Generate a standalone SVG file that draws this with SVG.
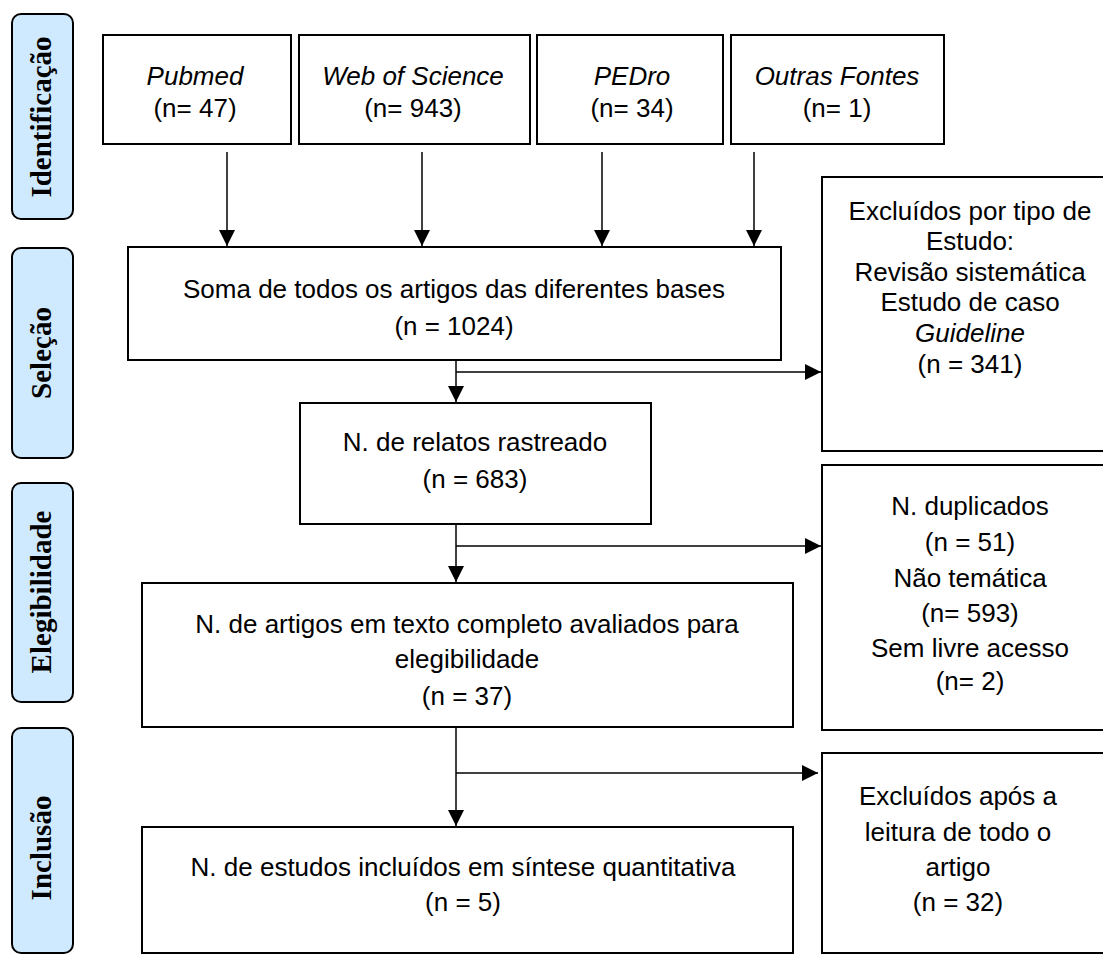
<svg xmlns="http://www.w3.org/2000/svg" width="1103" height="956" viewBox="0 0 1103 956">
<defs>
<marker id="arr" markerUnits="userSpaceOnUse" markerWidth="16" markerHeight="16" refX="16" refY="8" orient="auto"><path d="M0,0 L16,8 L0,16 z" fill="#000"/></marker>
<style>
.lab rect{fill:#cfeaff;stroke:#000;stroke-width:2}
.lab text{font-family:"Liberation Serif",serif;font-weight:bold;font-size:29px;fill:#000;text-anchor:middle}
.box rect{fill:#fff;stroke:#000;stroke-width:2}
.box text{font-family:"Liberation Sans",Arial,sans-serif;font-size:26px;fill:#000;text-anchor:middle}
.it{font-style:italic}
.con line{stroke:#000;stroke-width:1.5;fill:none}
</style>
</defs>
<rect x="0" y="0" width="1103" height="956" fill="#fff"/>

<g id="lab-identificacao" class="lab"><rect x="12" y="14" width="61" height="205" rx="9"/><text transform="translate(51,117) rotate(-90)">Identificação</text></g>
<g id="lab-selecao" class="lab"><rect x="12" y="248" width="61" height="210" rx="9"/><text transform="translate(51,353) rotate(-90)">Seleção</text></g>
<g id="lab-elegibilidade" class="lab"><rect x="12" y="483" width="61" height="219" rx="9"/><text transform="translate(51,592) rotate(-90)">Elegibilidade</text></g>
<g id="lab-inclusao" class="lab"><rect x="12" y="728" width="61" height="225" rx="9"/><text transform="translate(51,848) rotate(-90)">Inclusão</text></g>

<g id="pubmed" class="box"><rect x="103" y="35" width="188" height="109"/><text x="195" y="85" class="it">Pubmed</text><text x="195" y="117">(n= 47)</text></g>
<g id="wos" class="box"><rect x="299" y="35" width="231" height="109"/><text x="413" y="85" class="it">Web of Science</text><text x="413" y="117">(n= 943)</text></g>
<g id="pedro" class="box"><rect x="537" y="35" width="186" height="109"/><text x="632" y="85" class="it">PEDro</text><text x="632" y="117">(n= 34)</text></g>
<g id="outras" class="box"><rect x="731" y="35" width="213" height="109"/><text x="837" y="85" class="it">Outras Fontes</text><text x="837" y="117">(n= 1)</text></g>

<g id="soma" class="box"><rect x="128" y="247" width="653" height="113"/><text x="454" y="298">Soma de todos os artigos das diferentes bases</text><text x="454" y="335">(n = 1024)</text></g>
<g id="excl-tipo" class="box"><rect x="822" y="177" width="300" height="274"/><text x="970" y="220">Excluídos por tipo de</text><text x="970" y="250">Estudo:</text><text x="970" y="281">Revisão sistemática</text><text x="970" y="311">Estudo de caso</text><text x="970" y="342" class="it">Guideline</text><text x="970" y="373">(n = 341)</text></g>

<g id="relatos" class="box"><rect x="300" y="403" width="351" height="121"/><text x="475" y="451">N. de relatos rastreado</text><text x="475" y="488">(n = 683)</text></g>
<g id="duplicados" class="box"><rect x="822" y="465" width="300" height="265"/><text x="970" y="515">N. duplicados</text><text x="970" y="551">(n = 51)</text><text x="970" y="587">Não temática</text><text x="970" y="622">(n= 593)</text><text x="970" y="657">Sem livre acesso</text><text x="970" y="690">(n= 2)</text></g>

<g id="artigos" class="box"><rect x="142" y="583" width="651" height="144"/><text x="467" y="633">N. de artigos em texto completo avaliados para</text><text x="467" y="668">elegibilidade</text><text x="467" y="705">(n = 37)</text></g>
<g id="excl-leitura" class="box"><rect x="822" y="753" width="300" height="200"/><text x="958" y="805">Excluídos após a</text><text x="958" y="841">leitura de todo o</text><text x="958" y="876">artigo</text><text x="958" y="911">(n = 32)</text></g>

<g id="estudos" class="box"><rect x="142" y="827" width="651" height="126"/><text x="463" y="876">N. de estudos incluídos em síntese quantitativa</text><text x="463" y="911">(n = 5)</text></g>

<g id="connectors" class="con">
<line x1="227" y1="152" x2="227" y2="246" marker-end="url(#arr)"/>
<line x1="422" y1="152" x2="422" y2="246" marker-end="url(#arr)"/>
<line x1="602" y1="152" x2="602" y2="246" marker-end="url(#arr)"/>
<line x1="754" y1="152" x2="754" y2="246" marker-end="url(#arr)"/>
<line x1="456" y1="360" x2="456" y2="402" marker-end="url(#arr)"/>
<line x1="456" y1="372" x2="821" y2="372" marker-end="url(#arr)"/>
<line x1="456" y1="524" x2="456" y2="582" marker-end="url(#arr)"/>
<line x1="456" y1="546" x2="821" y2="546" marker-end="url(#arr)"/>
<line x1="456" y1="727" x2="456" y2="826" marker-end="url(#arr)"/>
<line x1="456" y1="773" x2="818" y2="773" marker-end="url(#arr)"/>
</g>
</svg>
